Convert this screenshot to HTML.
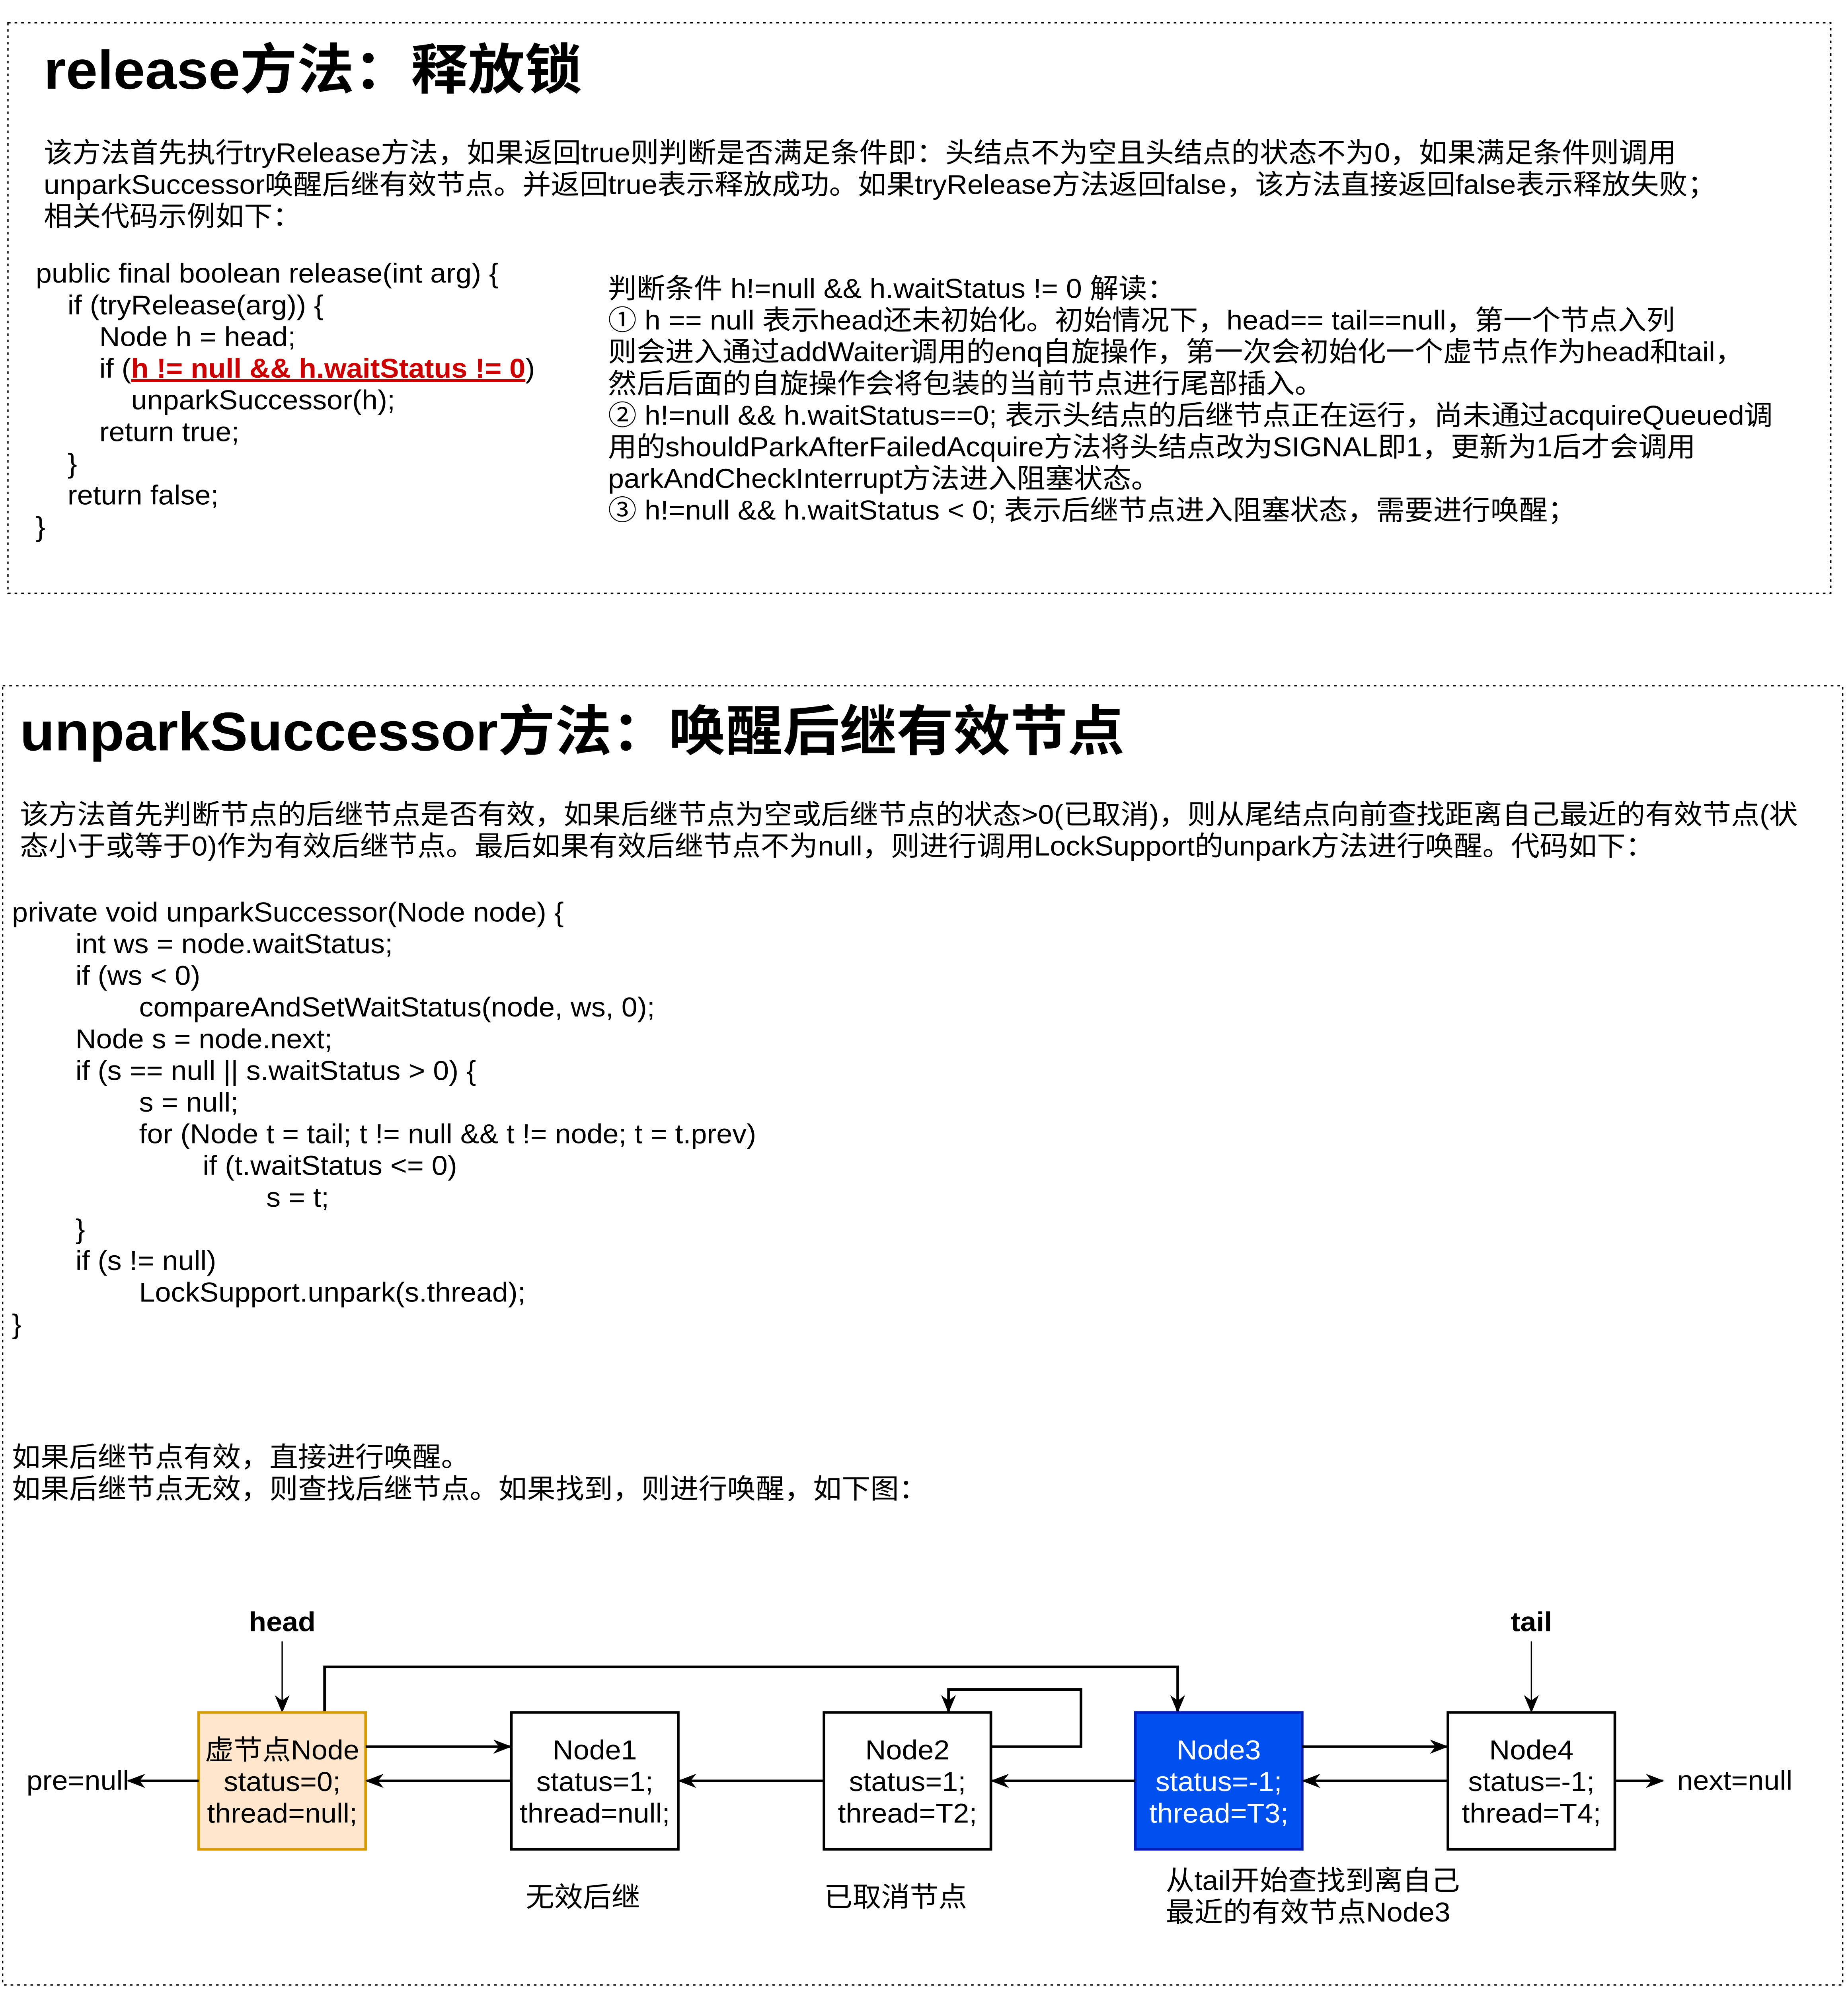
<!DOCTYPE html>
<html><head><meta charset="utf-8"><style>
html,body{margin:0;padding:0;background:#fff;width:100vw;height:100vh;overflow:hidden}
svg{display:block;position:absolute;left:0;top:0;width:100vw;height:100vh}
text{font-family:"Liberation Sans","Noto Sans CJK SC",sans-serif;font-size:21.6px;fill:#000}
.b{font-weight:bold}
</style></head><body>
<svg viewBox="0 0 1395 1570" preserveAspectRatio="none" xmlns="http://www.w3.org/2000/svg">
<defs>
<marker id="as" viewBox="0 0 10 10" refX="9" refY="5" markerWidth="14" markerHeight="14" orient="auto" markerUnits="userSpaceOnUse"><path d="M0,1 L10,5 L0,9 L3,5 z" fill="#000"/></marker>
</defs>
<rect x="6" y="18" width="1376" height="450" fill="none" stroke="#000" stroke-dasharray="2,3" stroke-width="1"/>
<text x="33" y="70" class="b" style="font-size:43px">release方法：释放锁</text>
<text x="33" y="128">该方法首先执行tryRelease方法，如果返回true则判断是否满足条件即：头结点不为空且头结点的状态不为0，如果满足条件则调用</text>
<text x="33" y="153">unparkSuccessor唤醒后继有效节点。并返回true表示释放成功。如果tryRelease方法返回false，该方法直接返回false表示释放失败；</text>
<text x="33" y="178">相关代码示例如下：</text>
<text x="27" y="223">public final boolean release(int arg) {</text>
<text x="51" y="248">if (tryRelease(arg)) {</text>
<text x="75" y="273">Node h = head;</text>
<text x="75" y="298">if (<tspan font-weight="bold" text-decoration="underline" style="fill:#cc0000">h != null &amp;&amp; h.waitStatus != 0</tspan>)</text>
<text x="99" y="323">unparkSuccessor(h);</text>
<text x="75" y="348">return true;</text>
<text x="51" y="373">}</text>
<text x="51" y="398">return false;</text>
<text x="27" y="423">}</text>
<text x="459" y="235">判断条件 h!=null &amp;&amp; h.waitStatus != 0 解读：</text>
<text x="459" y="260">① h == null 表示head还未初始化。初始情况下，head== tail==null，第一个节点入列</text>
<text x="459" y="285">则会进入通过addWaiter调用的enq自旋操作，第一次会初始化一个虚节点作为head和tail，</text>
<text x="459" y="310">然后后面的自旋操作会将包装的当前节点进行尾部插入。</text>
<text x="459" y="335">② h!=null &amp;&amp; h.waitStatus==0; 表示头结点的后继节点正在运行，尚未通过acquireQueued调</text>
<text x="459" y="360">用的shouldParkAfterFailedAcquire方法将头结点改为SIGNAL即1，更新为1后才会调用</text>
<text x="459" y="385">parkAndCheckInterrupt方法进入阻塞状态。</text>
<text x="459" y="410">③ h!=null &amp;&amp; h.waitStatus &lt; 0; 表示后继节点进入阻塞状态，需要进行唤醒；</text>

<rect x="2" y="541" width="1389" height="1025" fill="none" stroke="#000" stroke-dasharray="2,3" stroke-width="1"/>
<text x="15" y="592" class="b" style="font-size:43px">unparkSuccessor方法：唤醒后继有效节点</text>
<text x="15" y="650">该方法首先判断节点的后继节点是否有效，如果后继节点为空或后继节点的状态&gt;0(已取消)，则从尾结点向前查找距离自己最近的有效节点(状</text>
<text x="15" y="675">态小于或等于0)作为有效后继节点。最后如果有效后继节点不为null，则进行调用LockSupport的unpark方法进行唤醒。代码如下：</text>
<text x="9" y="727">private void unparkSuccessor(Node node) {</text>
<text x="57" y="752">int ws = node.waitStatus;</text>
<text x="57" y="777">if (ws &lt; 0)</text>
<text x="105" y="802">compareAndSetWaitStatus(node, ws, 0);</text>
<text x="57" y="827">Node s = node.next;</text>
<text x="57" y="852">if (s == null || s.waitStatus &gt; 0) {</text>
<text x="105" y="877">s = null;</text>
<text x="105" y="902">for (Node t = tail; t != null &amp;&amp; t != node; t = t.prev)</text>
<text x="153" y="927">if (t.waitStatus &lt;= 0)</text>
<text x="201" y="952">s = t;</text>
<text x="57" y="977">}</text>
<text x="57" y="1002">if (s != null)</text>
<text x="105" y="1027">LockSupport.unpark(s.thread);</text>
<text x="9" y="1052">}</text>
<text x="9" y="1157">如果后继节点有效，直接进行唤醒。</text>
<text x="9" y="1182">如果后继节点无效，则查找后继节点。如果找到，则进行唤醒，如下图：</text>

<text x="213" y="1287" class="b" text-anchor="middle">head</text>
<text x="1156" y="1287" class="b" text-anchor="middle">tail</text>
<line x1="213" y1="1295" x2="213" y2="1350" stroke="#000" stroke-width="1" marker-end="url(#as)"/>
<line x1="1156" y1="1295" x2="1156" y2="1350" stroke="#000" stroke-width="1" marker-end="url(#as)"/>
<polyline points="245,1351 245,1315 889,1315 889,1350" fill="none" stroke="#000" stroke-width="2" marker-end="url(#as)"/>
<polyline points="748,1378 816,1378 816,1333 716,1333 716,1350" fill="none" stroke="#000" stroke-width="2" marker-end="url(#as)"/>

<rect x="150" y="1351" width="126" height="108" fill="#ffe6cc" stroke="#d79b00" stroke-width="2"/>
<rect x="386" y="1351" width="126" height="108" fill="#fff" stroke="#000" stroke-width="2"/>
<rect x="622" y="1351" width="126" height="108" fill="#fff" stroke="#000" stroke-width="2"/>
<rect x="857" y="1351" width="126" height="108" fill="#0050ef" stroke="#001dbc" stroke-width="2"/>
<rect x="1093" y="1351" width="126" height="108" fill="#fff" stroke="#000" stroke-width="2"/>

<g text-anchor="middle">
<text x="213" y="1388">虚节点Node</text><text x="213" y="1413">status=0;</text><text x="213" y="1438">thread=null;</text>
<text x="449" y="1388">Node1</text><text x="449" y="1413">status=1;</text><text x="449" y="1438">thread=null;</text>
<text x="685" y="1388">Node2</text><text x="685" y="1413">status=1;</text><text x="685" y="1438">thread=T2;</text>
<text x="920" y="1388" style="fill:#fff">Node3</text><text x="920" y="1413" style="fill:#fff">status=-1;</text><text x="920" y="1438" style="fill:#fff">thread=T3;</text>
<text x="1156" y="1388">Node4</text><text x="1156" y="1413">status=-1;</text><text x="1156" y="1438">thread=T4;</text>
<text x="440" y="1504">无效后继</text>
<text x="676" y="1504">已取消节点</text>
</g>
<g stroke="#000" stroke-width="2" fill="none">
<line x1="276" y1="1378" x2="385" y2="1378" marker-end="url(#as)"/>
<line x1="983" y1="1378" x2="1092" y2="1378" marker-end="url(#as)"/>
<line x1="386" y1="1405" x2="277" y2="1405" marker-end="url(#as)"/>
<line x1="622" y1="1405" x2="513" y2="1405" marker-end="url(#as)"/>
<line x1="857" y1="1405" x2="749" y2="1405" marker-end="url(#as)"/>
<line x1="1093" y1="1405" x2="984" y2="1405" marker-end="url(#as)"/>
<line x1="150" y1="1405" x2="97" y2="1405" marker-end="url(#as)"/>
<line x1="1219" y1="1405" x2="1255" y2="1405" marker-end="url(#as)"/>
</g>
<text x="20" y="1412">pre=null</text>
<text x="1266" y="1412">next=null</text>
<text x="880" y="1491">从tail开始查找到离自己</text>
<text x="880" y="1516">最近的有效节点Node3</text>
</svg>
</body></html>
